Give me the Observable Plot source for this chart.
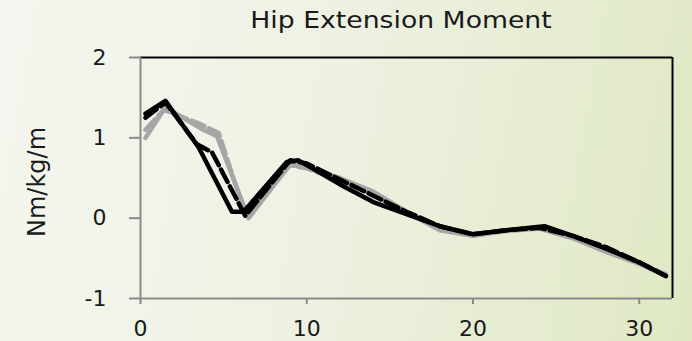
<!DOCTYPE html>
<html><head><meta charset="utf-8">
<script src="https://cdn.jsdelivr.net/npm/d3@7"></script>
<script src="https://cdn.jsdelivr.net/npm/@observablehq/plot@0.6"></script>
<style>
html,body{margin:0;padding:0;}
body{position:relative;width:692px;height:341px;overflow:hidden;background:linear-gradient(100deg,#f4f6ef 0%,#eef2e3 45%,#dfe8c3 100%);font-family:"DejaVu Sans",sans-serif;}
#title{position:absolute;left:401px;top:9px;white-space:nowrap;font-size:23px;line-height:23px;color:#1a1a1a;transform:translateX(-50%) scaleX(1.16);}
#ylabel{position:absolute;left:37px;top:182px;white-space:nowrap;font-size:24px;line-height:24px;color:#1a1a1a;transform:translate(-50%,-50%) rotate(-90deg);}
#chart{position:absolute;left:0;top:40px;}
</style></head>
<body>
<div id="title">Hip Extension Moment</div>
<div id="ylabel"></div>
<div id="chart"></div>
<script>
const xTicks = [0, 10, 20, 30];
const yTicks = [-1, 0, 1, 2];
const yLabel = "Nm/kg/m";

const blackSolidX = [0.3, 1.5, 3.5, 5.5, 6.2, 8.8, 9.5, 12, 14, 16, 18, 20, 22, 24.3, 26, 28, 30, 31.6];
const blackSolidY = [1.3, 1.46, 0.88, 0.08, 0.08, 0.7, 0.72, 0.42, 0.2, 0.05, -0.1, -0.2, -0.15, -0.1, -0.22, -0.38, -0.55, -0.72];

const blackDashX = [0.3, 1.5, 3.4, 4.3, 6.3, 9, 10, 12, 14, 16, 18, 20, 22, 24, 26, 28, 30, 31.6];
const blackDashY = [1.25, 1.44, 0.92, 0.82, 0.03, 0.72, 0.68, 0.48, 0.28, 0.08, -0.1, -0.2, -0.15, -0.12, -0.22, -0.36, -0.55, -0.72];

const graySolidX = [0.3, 1.5, 3.6, 4.6, 6.5, 9, 10, 12, 14, 16, 18, 20, 22, 24, 26, 28, 30, 31.6];
const graySolidY = [1.0, 1.38, 1.12, 1.02, 0.0, 0.67, 0.63, 0.5, 0.33, 0.08, -0.15, -0.22, -0.16, -0.13, -0.25, -0.42, -0.57, -0.72];

const grayDashX = [0.3, 1.4, 3.5, 4.7, 6.3, 9, 10, 12, 14, 16, 18, 20, 22, 24, 26, 28, 30, 31.6];
const grayDashY = [1.1, 1.35, 1.18, 1.06, 0.05, 0.66, 0.62, 0.47, 0.3, 0.06, -0.12, -0.22, -0.15, -0.12, -0.24, -0.4, -0.56, -0.7];

document.getElementById("ylabel").textContent = yLabel;

const toRows = (xs, ys) => xs.map((x, i) => ({x, y: ys[i]}));
const lineOpts = {x: "x", y: "y", strokeWidth: 4.5, strokeLinejoin: "round"};
const fmt = d => String(d).replace("\u2212", "-");

const chart = Plot.plot({
  width: 692, height: 301,
  marginLeft: 140, marginRight: 20, marginTop: 17, marginBottom: 43,
  style: {background: "transparent", fontFamily: "'DejaVu Sans', sans-serif", fontSize: "22px", color: "#1a1a1a"},
  x: {domain: [0, 32]},
  y: {domain: [-1, 2]},
  marks: [
    Plot.ruleY([2], {stroke: "#000", strokeWidth: 2}),
    Plot.ruleX([32], {stroke: "#000", strokeWidth: 2}),
    Plot.ruleX([0], {stroke: "#8a8a8a", strokeWidth: 2}),
    Plot.ruleY([-1], {stroke: "#8a8a8a", strokeWidth: 2}),
    Plot.axisX({ticks: xTicks, tickFormat: fmt, tickSize: 6, tickPadding: 16, stroke: "#8a8a8a", strokeWidth: 2, label: null, fontSize: 22}),
    Plot.axisY({ticks: yTicks, tickFormat: fmt, tickSize: 11, tickPadding: 23, stroke: "#8a8a8a", strokeWidth: 2, label: null, fontSize: 22}),
    Plot.line(toRows(graySolidX, graySolidY), {...lineOpts, stroke: "#a6a6a6"}),
    Plot.line(toRows(grayDashX, grayDashY), {...lineOpts, stroke: "#a6a6a6", strokeDasharray: "14,5"}),
    Plot.line(toRows(blackSolidX, blackSolidY), {...lineOpts, stroke: "#000"}),
    Plot.line(toRows(blackDashX, blackDashY), {...lineOpts, stroke: "#000", strokeDasharray: "14,5"})
  ]
});
document.getElementById("chart").appendChild(chart);
</script>
</body></html>
